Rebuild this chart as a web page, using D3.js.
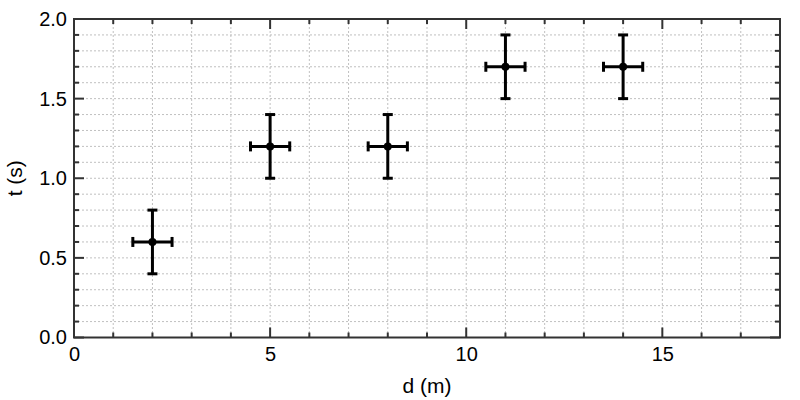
<!DOCTYPE html>
<html>
<head>
<meta charset="utf-8">
<script src="https://cdn.jsdelivr.net/npm/d3@7"></script>
<style>
  body { margin: 0; background: #fff; }
  svg text { font-family: "Liberation Sans", Arial, sans-serif; }
</style>
</head>
<body>
<div id="chart"></div>
<script>
// data
const dist = [2, 5, 8, 11, 14];
const time = [0.6, 1.2, 1.2, 1.7, 1.7];
const distErr = [0.5, 0.5, 0.5, 0.5, 0.5];
const timeErr = [0.2, 0.2, 0.2, 0.2, 0.2];
const xTicks = [0, 5, 10, 15];
const yTicks = [0, 0.5, 1.0, 1.5, 2.0];

const width = 800, height = 400;
const margin = {top: 19, right: 20, bottom: 62.5, left: 74};
const innerWidth = width - margin.left - margin.right;
const innerHeight = height - margin.top - margin.bottom;

const svg = d3.select("#chart").append("svg")
  .attr("width", width).attr("height", height);

const g = svg.append("g").attr("transform", `translate(${margin.left},${margin.top})`);

const x = d3.scaleLinear().domain([0, 18]).range([0, innerWidth]);
const y = d3.scaleLinear().domain([0, 2]).range([innerHeight, 0]);

const xMinor = d3.range(1, 18, 1);
const yMinor = d3.range(1, 20, 1).map(d => d / 10);

// grid
g.append("g").selectAll("line").data(xMinor).join("line")
  .attr("x1", d => x(d)).attr("x2", d => x(d))
  .attr("y1", 0).attr("y2", innerHeight)
  .attr("stroke", "#b0b0b0").attr("stroke-width", 0.8)
  .attr("stroke-dasharray", "2,2");
g.append("g").selectAll("line").data(yMinor).join("line")
  .attr("y1", d => y(d)).attr("y2", d => y(d))
  .attr("x1", 0).attr("x2", innerWidth)
  .attr("stroke", "#b0b0b0").attr("stroke-width", 0.8)
  .attr("stroke-dasharray", "2,2");

// ticks, inward on all four sides
const tickColor = "#333";
const isMajorX = d => xTicks.includes(d);
const isMajorY = d => yTicks.some(t => Math.abs(t - d) < 1e-9);
const allX = d3.range(0, 19, 1);
const allY = d3.range(0, 21, 1).map(d => d / 10);

[0, innerHeight].forEach((yy, side) => {
  g.append("g").selectAll("line").data(allX).join("line")
    .attr("x1", d => x(d)).attr("x2", d => x(d))
    .attr("y1", yy)
    .attr("y2", d => yy + (side ? -1 : 1) * (isMajorX(d) ? 10 : 5))
    .attr("stroke", tickColor).attr("stroke-width", 2);
});
[0, innerWidth].forEach((xx, side) => {
  g.append("g").selectAll("line").data(allY).join("line")
    .attr("y1", d => y(d)).attr("y2", d => y(d))
    .attr("x1", xx)
    .attr("x2", d => xx + (side ? -1 : 1) * (isMajorY(d) ? 10 : 5))
    .attr("stroke", tickColor).attr("stroke-width", 2);
});

// frame
g.append("rect")
  .attr("width", innerWidth).attr("height", innerHeight)
  .attr("fill", "none").attr("stroke", "#333").attr("stroke-width", 2);

// tick labels via axes
const xAxis = g.append("g")
  .attr("transform", `translate(0,${innerHeight})`)
  .call(d3.axisBottom(x).tickValues(xTicks).tickSize(0).tickPadding(9).tickFormat(d3.format("d")));
const yAxis = g.append("g")
  .call(d3.axisLeft(y).tickValues(yTicks).tickSize(0).tickPadding(7).tickFormat(d3.format(".1f")));
[xAxis, yAxis].forEach(a => {
  a.select(".domain").remove();
  a.selectAll("text").style("font-size", "20px").attr("fill", "#000")
    .style("font-family", "'Liberation Sans', Arial, sans-serif");
});

// axis titles
svg.append("text")
  .attr("x", margin.left + x(9)).attr("y", 393)
  .attr("text-anchor", "middle").style("font-size", "21px")
  .text("d (m)");
svg.append("text")
  .attr("transform", `translate(22,${margin.top + y(1)}) rotate(-90)`)
  .attr("text-anchor", "middle").style("font-size", "21px")
  .text("t (s)");

// error bars
const pts = dist.map((d, i) => ({x: d, y: time[i], ex: distErr[i], ey: timeErr[i]}));
const eb = g.append("g").attr("stroke", "#000").attr("stroke-width", 3);
const cap = 5;
pts.forEach(p => {
  eb.append("line").attr("x1", x(p.x - p.ex)).attr("x2", x(p.x + p.ex))
    .attr("y1", y(p.y)).attr("y2", y(p.y));
  eb.append("line").attr("x1", x(p.x)).attr("x2", x(p.x))
    .attr("y1", y(p.y - p.ey)).attr("y2", y(p.y + p.ey));
  [p.x - p.ex, p.x + p.ex].forEach(v =>
    eb.append("line").attr("x1", x(v)).attr("x2", x(v))
      .attr("y1", y(p.y) - cap).attr("y2", y(p.y) + cap));
  [p.y - p.ey, p.y + p.ey].forEach(v =>
    eb.append("line").attr("y1", y(v)).attr("y2", y(v))
      .attr("x1", x(p.x) - cap).attr("x2", x(p.x) + cap));
});
g.append("g").selectAll("circle").data(pts).join("circle")
  .attr("cx", d => x(d.x)).attr("cy", d => y(d.y)).attr("r", 4)
  .attr("fill", "#000");
</script>
</body>
</html>
